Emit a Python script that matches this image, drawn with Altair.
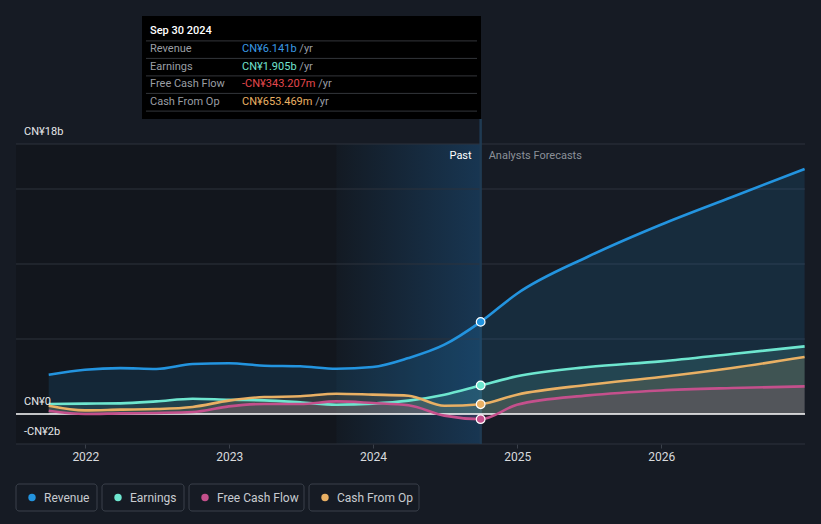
import altair as alt
import pandas as pd

# ---------------- data ----------------
past_dates = ["2021-09-30", "2021-12-31", "2022-03-31", "2022-06-30", "2022-09-30",
              "2022-12-31", "2023-03-31", "2023-06-30", "2023-09-30", "2023-12-31",
              "2024-03-31", "2024-06-30", "2024-09-30"]
revenue_past = [2.62, 2.95, 3.06, 3.00, 3.33, 3.38, 3.22, 3.18, 3.02, 3.13, 3.73, 4.62, 6.141]
earnings_past = [0.67, 0.69, 0.71, 0.84, 1.02, 0.95, 0.91, 0.78, 0.62, 0.69, 0.89, 1.29, 1.905]
fcf_past = [0.22, 0.00, 0.04, 0.07, 0.13, 0.51, 0.67, 0.67, 0.84, 0.73, 0.58, -0.11, -0.343]
cfo_past = [0.55, 0.24, 0.29, 0.33, 0.47, 0.89, 1.13, 1.18, 1.35, 1.29, 1.22, 0.55, 0.653]

fc_dates = ["2024-12-31", "2025-06-30", "2025-12-31", "2026-06-30", "2026-12-31"]
revenue_fc = [8.02, 10.5, 12.62, 14.47, 16.33]
earnings_fc = [2.51, 3.13, 3.51, 4.00, 4.51]
fcf_fc = [0.62, 1.24, 1.57, 1.73, 1.84]
cfo_fc = [1.29, 1.95, 2.47, 3.07, 3.80]

series_names = ["Revenue", "Earnings", "Free Cash Flow", "Cash From Op"]
series_colors = ["#2394df", "#6ee6cf", "#c4508c", "#e9b064"]

tooltip_date = "Sep 30 2024"
tooltip_values = ["CN¥6.141b", "CN¥1.905b", "-CN¥343.207m", "CN¥653.469m"]
tooltip_value_colors = ["#3a9be6", "#72e3cf", "#e5484d", "#e9b064"]

y_label_values = [18, 0, -2]
y_label_texts = ["CN¥18b", "CN¥0", "-CN¥2b"]
grid_values = [-2, 5, 10, 15, 18]
x_tick_years = [2022, 2023, 2024, 2025, 2026]
last_actual = "2024-09-30"
band_start = "2023-09-30"
x_domain = ["2021-07-09", "2027-01-01"]
past_label = "Past"
forecast_label = "Analysts Forecasts"

# ---------------- layout ----------------
W, H = 789, 428
PX_PER_B = 15.0
Y_MAX = 18 + 128 / PX_PER_B
BG = "#161b24"
FS = 11
# approximate Roboto glyph advance widths (em) used to place the "/yr" suffix
GLYPH_EM = {"C": 0.652, "N": 0.713, "¥": 0.53, ".": 0.263, "b": 0.56, "m": 0.876,
            "-": 0.276, " ": 0.248}

def text_width(s, size=FS):
    return sum(GLYPH_EM.get(ch, 0.562) for ch in s) * size

rows = []
for name, p, f in zip(series_names,
                      [revenue_past, earnings_past, fcf_past, cfo_past],
                      [revenue_fc, earnings_fc, fcf_fc, cfo_fc]):
    for d, v in zip(past_dates + fc_dates, p + f):
        rows.append({"date": pd.Timestamp(d), "series": name, "value": v, "zero": 0.0})
df = pd.DataFrame(rows)
df_pts = df[df["date"] == pd.Timestamp(last_actual)]

def dt(s):
    t = pd.Timestamp(s)
    return alt.DateTime(year=t.year, month=t.month, date=t.day)

xs = alt.Scale(domain=[dt(x_domain[0]), dt(x_domain[1])])
ys = alt.Scale(domain=[-2, Y_MAX], nice=False, zero=False)
cs = alt.Scale(domain=series_names, range=series_colors)
xaxis = alt.Axis(values=[alt.DateTime(year=y, month=1, date=1) for y in x_tick_years],
                 format="%Y", labelColor="#d8dadd", labelFontSize=12, tickColor="#3a404a",
                 tickSize=4, domain=False, grid=False, labelPadding=3, title=None)

def X(field):
    return alt.X(field, type="temporal", scale=xs, axis=xaxis, title=None)

def Y(field):
    return alt.Y(field, type="quantitative", scale=ys, axis=None, title=None, stack=None)

regions = pd.DataFrame({
    "start": [pd.Timestamp(x_domain[0]), pd.Timestamp(band_start)],
    "end": [pd.Timestamp(last_actual), pd.Timestamp(last_actual)],
    "lo": [-2, -2], "hi": [18, 18], "kind": ["past", "band"]})

past_bg = alt.Chart(regions[regions.kind == "past"]).mark_rect(color="#12161d").encode(
    x=X("start"), x2="end", y=Y("lo"), y2="hi")

band = alt.Chart(regions[regions.kind == "band"]).mark_rect(
    fill=alt.Gradient(gradient="linear", x1=0, x2=1, y1=0, y2=0,
                      stops=[alt.GradientStop(color="#131a23", offset=0),
                             alt.GradientStop(color="#183652", offset=1)])
).encode(x=X("start"), x2="end", y=Y("lo"), y2="hi")

grid = alt.Chart(pd.DataFrame({"v": grid_values})).mark_rule(
    color="#2c323c", strokeWidth=1).encode(y=Y("v"))

vline = alt.Chart(pd.DataFrame({"date": [pd.Timestamp(last_actual)]})).mark_rule(
    color="#1f3a52", strokeWidth=2.5).encode(x=X("date"), y=alt.value(103), y2=alt.value(H))

areas = alt.Chart(df).mark_area(interpolate="monotone", opacity=0.14).encode(
    x=X("date"), y=Y("value"), y2="zero:Q",
    color=alt.Color("series:N", scale=cs, legend=None))

zero_rule = alt.Chart(pd.DataFrame({"v": [0]})).mark_rule(
    color="#ffffff", strokeWidth=1.5).encode(y=Y("v"))

lines = alt.Chart(df).mark_line(interpolate="monotone", strokeWidth=2.6).encode(
    x=X("date"), y=Y("value"),
    color=alt.Color("series:N", scale=cs, legend=None))

points = alt.Chart(df_pts).mark_circle(size=75, stroke="white", strokeWidth=1.2, opacity=1).encode(
    x=X("date"), y=Y("value"),
    color=alt.Color("series:N", scale=cs, legend=None))

lbl_df = pd.DataFrame({"date": [pd.Timestamp(last_actual)], "v": [18 - 12 / PX_PER_B]})
past_txt = alt.Chart(lbl_df).mark_text(text=past_label, align="right", baseline="middle",
                                       dx=-9, color="#ffffff", fontSize=11).encode(
    x=X("date"), y=Y("v"))
fc_txt = alt.Chart(lbl_df).mark_text(text=forecast_label, align="left", baseline="middle",
                                     dx=8, color="#8b9098", fontSize=11).encode(
    x=X("date"), y=Y("v"))

ylab = alt.Chart(pd.DataFrame({"v": y_label_values, "t": y_label_texts})).mark_text(
    align="left", baseline="middle", dy=-12, color="#e6e8ea", fontSize=11).encode(
    x=alt.value(8), y=Y("v"), text="t:N")

# ---------------- tooltip box ----------------
TT_X0, TT_X1, TT_Y1 = 126, 465, 103
VAL_X = TT_X0 + 100
tt_box = alt.Chart(pd.DataFrame({"a": [0]})).mark_rect(color="#000000").encode(
    x=alt.value(TT_X0), x2=alt.value(TT_X1), y=alt.value(0), y2=alt.value(TT_Y1))
tt_title = alt.Chart(pd.DataFrame({"t": [tooltip_date]})).mark_text(
    align="left", baseline="middle", color="#ffffff", fontSize=FS, fontWeight=500).encode(
    x=alt.value(TT_X0 + 8), y=alt.value(15), text="t:N")
row_y = [33.3 + 17.5 * i for i in range(len(series_names))]
tt_df = pd.DataFrame({
    "label": series_names, "val": tooltip_values, "vc": tooltip_value_colors,
    "y": row_y,
    "sx": [VAL_X + text_width(v + " ") for v in tooltip_values]})
sep_df = pd.DataFrame({"sep": [y - 8.4 for y in row_y] + [row_y[-1] + 9.3]})
tt_seps = alt.Chart(sep_df).mark_rule(color="#33363b", strokeWidth=1).encode(
    x=alt.value(TT_X0 + 4), x2=alt.value(TT_X1 - 4), y=alt.Y("sep:Q", scale=None))
tt_labels = alt.Chart(tt_df).mark_text(align="left", baseline="middle", color="#9a9ea4",
                                       fontSize=FS).encode(
    x=alt.value(TT_X0 + 8), y=alt.Y("y:Q", scale=None), text="label:N")
tt_vals = alt.Chart(tt_df).mark_text(align="left", baseline="middle", fontSize=FS).encode(
    x=alt.value(VAL_X), y=alt.Y("y:Q", scale=None), text="val:N",
    color=alt.Color("vc:N", scale=None))
tt_suffix = alt.Chart(tt_df).mark_text(text="/yr", align="left", baseline="middle",
                                       color="#9a9ea4", fontSize=FS).encode(
    x=alt.X("sx:Q", scale=None), y=alt.Y("y:Q", scale=None))

# ---------------- legend ----------------
box_w = [81, 82, 115, 110]
x0 = []
acc = 0
for w in box_w:
    x0.append(acc)
    acc += w + 5
leg = pd.DataFrame({"series": series_names, "x0": x0,
                    "x1": [a + w for a, w in zip(x0, box_w)],
                    "dx": [a + 16 for a in x0], "tx": [a + 28 for a in x0]})
LEG_Y0, LEG_Y1 = 468, 495
leg_box = alt.Chart(leg).mark_rect(fill=BG, stroke="#3a404a", strokeWidth=1, cornerRadius=3).encode(
    x=alt.X("x0:Q", scale=None), x2="x1:Q", y=alt.value(LEG_Y0), y2=alt.value(LEG_Y1))
leg_dot = alt.Chart(leg).mark_circle(size=55, opacity=1).encode(
    x=alt.X("dx:Q", scale=None), y=alt.value((LEG_Y0 + LEG_Y1) / 2),
    color=alt.Color("series:N", scale=cs, legend=None))
leg_txt = alt.Chart(leg).mark_text(align="left", baseline="middle", color="#c8cbd0",
                                   fontSize=12).encode(
    x=alt.X("tx:Q", scale=None), y=alt.value((LEG_Y0 + LEG_Y1) / 2), text="series:N")

chart = alt.layer(
    past_bg, band, grid, vline, areas, zero_rule, lines, points, past_txt, fc_txt, ylab,
    tt_box, tt_seps, tt_title, tt_labels, tt_vals, tt_suffix,
    leg_box, leg_dot, leg_txt
).properties(
    width=W, height=H, background=BG,
    padding={"left": 8, "top": 8, "right": 8, "bottom": 70},
    autosize=alt.AutoSizeParams(type="none"),
).configure(font="Roboto").configure_view(stroke=None)

# page template identical to the standard one, plus a dark page background
page_template = None
try:
    import jinja2
    page_template = jinja2.Template("""<!DOCTYPE html>
<html>
<head>
  <style>html, body { background: """ + BG + """; }</style>
  <script type="text/javascript" src="{{ base_url }}/vega@{{ vega_version }}"></script>
  <script type="text/javascript" src="{{ base_url }}/vega-lite@{{ vegalite_version }}"></script>
  <script type="text/javascript" src="{{ base_url }}/vega-embed@{{ vegaembed_version }}"></script>
</head>
<body>
  <div id="{{ output_div }}"></div>
  <script type="text/javascript">
    var spec = {{ spec }};
    var embedOpt = {{ embed_options }};
    function showError(el, error){
        el.innerHTML = ('<div style="color:red;"><p>JavaScript Error: ' + error.message + '</p></div>');
        throw error;
    }
    const el = document.getElementById('{{ output_div }}');
    vegaEmbed("#{{ output_div }}", spec, embedOpt).catch(error => showError(el, error));
  </script>
</body>
</html>
""")
except Exception:
    page_template = None

saved = False
if page_template is not None:
    try:
        chart.save("out.html", embed_options={"renderer": "svg", "actions": False},
                   template=page_template)
        saved = True
    except Exception:
        saved = False
if not saved:
    chart.save("out.html", embed_options={"renderer": "svg", "actions": False})
